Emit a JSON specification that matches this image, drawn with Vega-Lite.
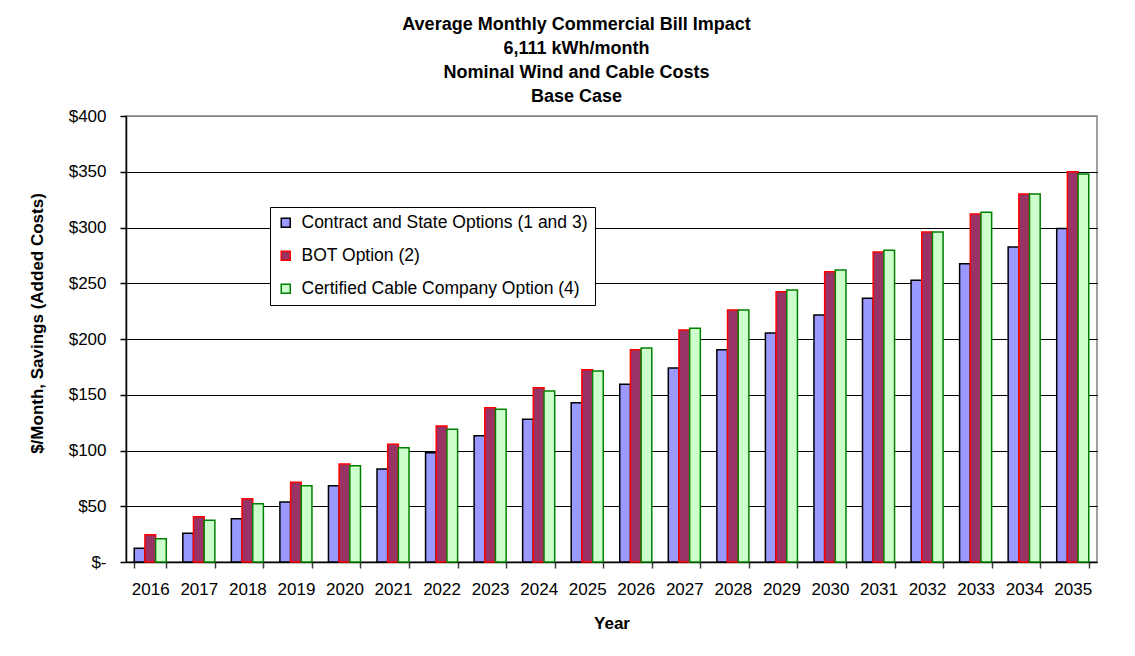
{
  "$schema": "https://vega.github.io/schema/vega-lite/v6.json",
  "width": 971,
  "height": 446,
  "autosize": {"type": "none"},
  "padding": {"left": 126, "top": 116, "right": 38, "bottom": 94},
  "background": "white",
  "title": {
    "text": ["Average Monthly Commercial Bill Impact", "6,111 kWh/month", "Nominal Wind and Cable Costs", "Base Case"],
    "anchor": "middle",
    "frame": "group",
    "dx": -35,
    "offset": 1,
    "font": "Liberation Sans",
    "fontSize": 18,
    "fontWeight": "bold",
    "color": "black",
    "lineHeight": 24
  },
  "data": {
    "values": [
      {"year": "2016", "option": "Contract and State Options (1 and 3)", "value": 12.3},
      {"year": "2016", "option": "BOT Option (2)", "value": 24.5},
      {"year": "2016", "option": "Certified Cable Company Option (4)", "value": 20.9},
      {"year": "2017", "option": "Contract and State Options (1 and 3)", "value": 25.7},
      {"year": "2017", "option": "BOT Option (2)", "value": 40.6},
      {"year": "2017", "option": "Certified Cable Company Option (4)", "value": 37.4},
      {"year": "2018", "option": "Contract and State Options (1 and 3)", "value": 38.8},
      {"year": "2018", "option": "BOT Option (2)", "value": 56.8},
      {"year": "2018", "option": "Certified Cable Company Option (4)", "value": 52.3},
      {"year": "2019", "option": "Contract and State Options (1 and 3)", "value": 53.8},
      {"year": "2019", "option": "BOT Option (2)", "value": 71.5},
      {"year": "2019", "option": "Certified Cable Company Option (4)", "value": 68.4},
      {"year": "2020", "option": "Contract and State Options (1 and 3)", "value": 68.4},
      {"year": "2020", "option": "BOT Option (2)", "value": 87.9},
      {"year": "2020", "option": "Certified Cable Company Option (4)", "value": 86.4},
      {"year": "2021", "option": "Contract and State Options (1 and 3)", "value": 83.4},
      {"year": "2021", "option": "BOT Option (2)", "value": 105.6},
      {"year": "2021", "option": "Certified Cable Company Option (4)", "value": 102.5},
      {"year": "2022", "option": "Contract and State Options (1 and 3)", "value": 98.0},
      {"year": "2022", "option": "BOT Option (2)", "value": 122.0},
      {"year": "2022", "option": "Certified Cable Company Option (4)", "value": 119.0},
      {"year": "2023", "option": "Contract and State Options (1 and 3)", "value": 113.3},
      {"year": "2023", "option": "BOT Option (2)", "value": 138.4},
      {"year": "2023", "option": "Certified Cable Company Option (4)", "value": 137.0},
      {"year": "2024", "option": "Contract and State Options (1 and 3)", "value": 128.0},
      {"year": "2024", "option": "BOT Option (2)", "value": 156.3},
      {"year": "2024", "option": "Certified Cable Company Option (4)", "value": 153.4},
      {"year": "2025", "option": "Contract and State Options (1 and 3)", "value": 142.9},
      {"year": "2025", "option": "BOT Option (2)", "value": 172.5},
      {"year": "2025", "option": "Certified Cable Company Option (4)", "value": 171.3},
      {"year": "2026", "option": "Contract and State Options (1 and 3)", "value": 159.4},
      {"year": "2026", "option": "BOT Option (2)", "value": 190.4},
      {"year": "2026", "option": "Certified Cable Company Option (4)", "value": 192.0},
      {"year": "2027", "option": "Contract and State Options (1 and 3)", "value": 174.0},
      {"year": "2027", "option": "BOT Option (2)", "value": 208.0},
      {"year": "2027", "option": "Certified Cable Company Option (4)", "value": 209.6},
      {"year": "2028", "option": "Contract and State Options (1 and 3)", "value": 190.4},
      {"year": "2028", "option": "BOT Option (2)", "value": 226.0},
      {"year": "2028", "option": "Certified Cable Company Option (4)", "value": 226.0},
      {"year": "2029", "option": "Contract and State Options (1 and 3)", "value": 205.4},
      {"year": "2029", "option": "BOT Option (2)", "value": 242.4},
      {"year": "2029", "option": "Certified Cable Company Option (4)", "value": 244.0},
      {"year": "2030", "option": "Contract and State Options (1 and 3)", "value": 221.5},
      {"year": "2030", "option": "BOT Option (2)", "value": 260.4},
      {"year": "2030", "option": "Certified Cable Company Option (4)", "value": 261.9},
      {"year": "2031", "option": "Contract and State Options (1 and 3)", "value": 236.5},
      {"year": "2031", "option": "BOT Option (2)", "value": 278.0},
      {"year": "2031", "option": "Certified Cable Company Option (4)", "value": 279.5},
      {"year": "2032", "option": "Contract and State Options (1 and 3)", "value": 252.6},
      {"year": "2032", "option": "BOT Option (2)", "value": 296.0},
      {"year": "2032", "option": "Certified Cable Company Option (4)", "value": 296.0},
      {"year": "2033", "option": "Contract and State Options (1 and 3)", "value": 267.5},
      {"year": "2033", "option": "BOT Option (2)", "value": 312.0},
      {"year": "2033", "option": "Certified Cable Company Option (4)", "value": 313.6},
      {"year": "2034", "option": "Contract and State Options (1 and 3)", "value": 282.5},
      {"year": "2034", "option": "BOT Option (2)", "value": 330.0},
      {"year": "2034", "option": "Certified Cable Company Option (4)", "value": 330.0},
      {"year": "2035", "option": "Contract and State Options (1 and 3)", "value": 299.0},
      {"year": "2035", "option": "BOT Option (2)", "value": 350.0},
      {"year": "2035", "option": "Certified Cable Company Option (4)", "value": 348.0}
    ]
  },
  "mark": {"type": "bar", "strokeWidth": 1.5},
  "encoding": {
    "x": {
      "field": "year",
      "type": "ordinal",
      "scale": {"paddingInner": 0.34, "paddingOuter": 0.17},
      "axis": {
        "title": "Year",
        "labelAngle": 0,
        "tickBand": "extent",
        "tickSize": 6,
        "tickColor": "#404040",
        "domainColor": "black",
        "labelPadding": 13,
        "titlePadding": 18
      }
    },
    "xOffset": {
      "field": "option",
      "type": "nominal",
      "scale": {
        "domain": ["Contract and State Options (1 and 3)", "BOT Option (2)", "Certified Cable Company Option (4)"],
        "paddingInner": 0,
        "paddingOuter": 0
      }
    },
    "y": {
      "field": "value",
      "type": "quantitative",
      "scale": {"domain": [0, 400], "nice": false},
      "axis": {
        "title": "$/Month, Savings (Added Costs)",
        "values": [0, 50, 100, 150, 200, 250, 300, 350, 400],
        "labelExpr": "datum.value == 0 ? '$-' : '$' + datum.value",
        "grid": true,
        "gridColor": {"condition": {"test": "datum.value == 400", "value": "#808080"}, "value": "black"},
        "gridWidth": 1,
        "tickSize": 6,
        "tickColor": "black",
        "domainColor": "black",
        "labelPadding": 14,
        "titlePadding": 22,
        "titleY": 207
      }
    },
    "fill": {
      "field": "option",
      "type": "nominal",
      "scale": {
        "domain": ["Contract and State Options (1 and 3)", "BOT Option (2)", "Certified Cable Company Option (4)"],
        "range": ["#9999FF", "#993366", "#CCFFCC"]
      },
      "legend": {"title": null}
    },
    "stroke": {
      "field": "option",
      "type": "nominal",
      "scale": {
        "domain": ["Contract and State Options (1 and 3)", "BOT Option (2)", "Certified Cable Company Option (4)"],
        "range": ["black", "#FF0000", "#008000"]
      },
      "legend": {"title": null}
    }
  },
  "config": {
    "font": "Liberation Sans",
    "view": {"stroke": "#808080", "strokeWidth": 1.5},
    "axis": {
      "labelFont": "Liberation Sans",
      "labelFontSize": 17,
      "labelColor": "black",
      "titleFont": "Liberation Sans",
      "titleFontSize": 17,
      "titleFontWeight": "bold",
      "titleColor": "black",
      "domainWidth": 1.5,
      "tickWidth": 1.5
    },
    "legend": {
      "orient": "none",
      "legendX": 144,
      "legendY": 91,
      "direction": "vertical",
      "labelFont": "Liberation Sans",
      "labelFontSize": 17.5,
      "labelColor": "black",
      "labelLimit": 400,
      "labelOffset": 7,
      "symbolType": "square",
      "symbolSize": 81,
      "symbolStrokeWidth": 1.5,
      "rowPadding": 14,
      "padding": 7,
      "strokeColor": "black",
      "fillColor": "white"
    }
  }
}
